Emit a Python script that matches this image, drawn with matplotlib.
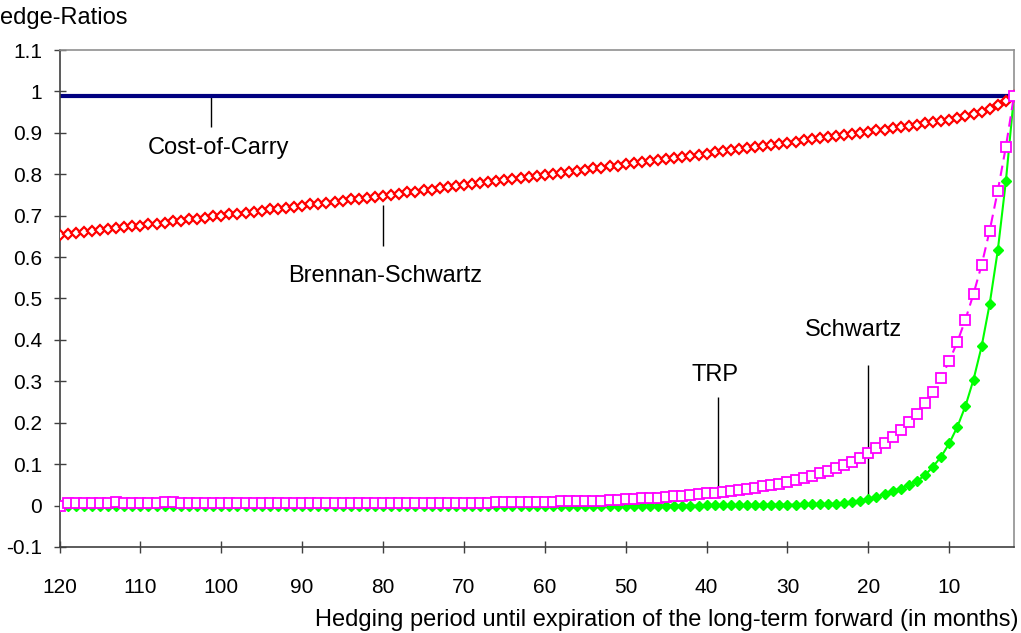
import numpy as np
import matplotlib
matplotlib.use("Agg")
import matplotlib.pyplot as plt

plt.rcParams['font.family'] = ['Liberation Sans', 'DejaVu Sans']

# hedging period in months (categories, 120 down to 2)
months = np.arange(120, 1, -1)

cost_of_carry = [0.99] * len(months)

brennan_schwartz = [
    0.653, 0.655, 0.658, 0.660, 0.662, 0.665, 0.667, 0.669, 0.672, 0.674,
    0.676, 0.679, 0.681, 0.683, 0.686, 0.688, 0.691, 0.693, 0.695, 0.698,
    0.700, 0.703, 0.705, 0.707, 0.710, 0.712, 0.715, 0.717, 0.719, 0.722,
    0.724, 0.727, 0.729, 0.731, 0.734, 0.736, 0.739, 0.741, 0.743, 0.746,
    0.748, 0.751, 0.753, 0.756, 0.758, 0.761, 0.763, 0.766, 0.768, 0.771,
    0.773, 0.776, 0.778, 0.781, 0.783, 0.786, 0.788, 0.791, 0.793, 0.796,
    0.798, 0.801, 0.803, 0.806, 0.808, 0.811, 0.814, 0.816, 0.819, 0.821,
    0.824, 0.826, 0.829, 0.832, 0.834, 0.837, 0.839, 0.842, 0.845, 0.847,
    0.850, 0.853, 0.855, 0.858, 0.861, 0.863, 0.866, 0.868, 0.871, 0.874,
    0.876, 0.879, 0.882, 0.884, 0.887, 0.890, 0.892, 0.895, 0.898, 0.900,
    0.903, 0.906, 0.908, 0.911, 0.914, 0.917, 0.920, 0.923, 0.926, 0.929,
    0.932, 0.936, 0.940, 0.945, 0.951, 0.958, 0.966, 0.976, 0.990,
]

trp = [
    0.000, 0.006, 0.006, 0.006, 0.006, 0.007, 0.007, 0.009, 0.007, 0.007,
    0.007, 0.007, 0.007, 0.008, 0.009, 0.007, 0.007, 0.006, 0.006, 0.006,
    0.006, 0.006, 0.006, 0.005, 0.006, 0.006, 0.006, 0.006, 0.006, 0.005,
    0.006, 0.006, 0.006, 0.006, 0.006, 0.006, 0.006, 0.006, 0.006, 0.006,
    0.006, 0.006, 0.006, 0.006, 0.006, 0.006, 0.006, 0.006, 0.007, 0.007,
    0.007, 0.007, 0.007, 0.007, 0.008, 0.008, 0.008, 0.008, 0.008, 0.009,
    0.009, 0.009, 0.010, 0.010, 0.010, 0.011, 0.011, 0.012, 0.013, 0.014,
    0.015, 0.016, 0.017, 0.018, 0.019, 0.020, 0.022, 0.023, 0.025, 0.027,
    0.029, 0.031, 0.033, 0.035, 0.038, 0.040, 0.043, 0.046, 0.050, 0.053,
    0.057, 0.061, 0.066, 0.072, 0.078, 0.084, 0.091, 0.098, 0.106, 0.115,
    0.126, 0.138, 0.152, 0.166, 0.182, 0.202, 0.222, 0.248, 0.274, 0.309,
    0.349, 0.395, 0.449, 0.511, 0.581, 0.664, 0.760, 0.866, 0.989,
]

schwartz = [
    0.000, 0.000, 0.000, 0.000, 0.000, 0.000, 0.000, 0.000, 0.000, 0.000,
    0.000, 0.000, 0.000, 0.000, 0.000, 0.000, 0.000, 0.000, 0.000, 0.000,
    0.000, 0.000, 0.000, 0.000, 0.000, 0.000, 0.000, 0.000, 0.000, 0.000,
    0.000, 0.000, 0.000, 0.000, 0.000, 0.000, 0.000, 0.000, 0.000, 0.000,
    0.000, 0.000, 0.000, 0.000, 0.000, 0.000, 0.000, 0.000, 0.000, 0.000,
    0.000, 0.000, 0.000, 0.000, 0.000, 0.000, 0.000, 0.000, 0.000, 0.000,
    0.000, 0.000, 0.000, 0.000, 0.000, 0.000, 0.000, 0.000, 0.000, 0.000,
    0.000, 0.000, 0.000, 0.000, 0.000, 0.000, 0.000, 0.000, 0.000, 0.000,
    0.001, 0.001, 0.001, 0.001, 0.001, 0.001, 0.001, 0.002, 0.002, 0.002,
    0.002, 0.002, 0.003, 0.003, 0.003, 0.004, 0.004, 0.006, 0.008, 0.012,
    0.016, 0.021, 0.027, 0.035, 0.041, 0.049, 0.059, 0.073, 0.094, 0.118,
    0.150, 0.190, 0.240, 0.304, 0.384, 0.487, 0.616, 0.783, 0.989,
]

x_ticks = [120, 110, 100, 90, 80, 70, 60, 50, 40, 30, 20, 10]
y_ticks = [-0.1, 0, 0.1, 0.2, 0.3, 0.4, 0.5, 0.6, 0.7, 0.8, 0.9, 1, 1.1]
y_ticklabels = ['-0.1', '0', '0.1', '0.2', '0.3', '0.4', '0.5', '0.6',
                '0.7', '0.8', '0.9', '1', '1.1']

fig = plt.figure(figsize=(10.21, 6.33), dpi=100)
ax = fig.add_axes([0.0583, 0.136, 0.9348, 0.785])

ax.plot(months, cost_of_carry, color='#000080', lw=3, zorder=2)
ax.plot(months, brennan_schwartz, linestyle='none', marker='D', markersize=4.8,
        markerfacecolor='white', markeredgecolor='#ff0000', markeredgewidth=1.6, zorder=3)
ax.plot(months, schwartz, color='#00ff00', lw=1.5, marker='D', markersize=5,
        markerfacecolor='#00ff00', markeredgecolor='#00ff00', zorder=4)
ax.plot(months, trp, color='#ff00ff', lw=1.5, linestyle=(0, (5, 3)), marker='s',
        markersize=6.7, markerfacecolor='white', markeredgecolor='#ff00ff',
        markeredgewidth=1.3, zorder=5)

# series labels with pointer lines
ax.vlines(101.3, 0.913, 0.99, color='black', lw=1, zorder=1)
ax.text(100.4, 0.863, 'Cost-of-Carry', ha='center', va='center', fontsize=17)
ax.vlines(80, 0.627, 0.725, color='black', lw=1, zorder=1)
ax.text(79.8, 0.554, 'Brennan-Schwartz', ha='center', va='center', fontsize=17)
ax.vlines(38.6, 0.029, 0.263, color='black', lw=1, zorder=1)
ax.text(38.9, 0.316, 'TRP', ha='center', va='center', fontsize=17)
ax.vlines(20, 0.022, 0.340, color='black', lw=1, zorder=1)
ax.text(21.9, 0.424, 'Schwartz', ha='center', va='center', fontsize=17)

ax.set_xlim(120, 2)
ax.set_ylim(-0.1, 1.1)
ax.set_xticks(x_ticks)
ax.set_xticklabels([str(t) for t in x_ticks])
ax.set_yticks(y_ticks)
ax.set_yticklabels(y_ticklabels)
ax.tick_params(axis='x', direction='inout', length=9, width=1, color='#404040',
               labelsize=15, pad=18)
ax.tick_params(axis='y', direction='inout', length=9, width=1, color='#404040',
               labelsize=15, pad=8)

for side in ['left', 'bottom']:
    ax.spines[side].set_color('#404040')
    ax.spines[side].set_linewidth(1.2)
for side in ['top', 'right']:
    ax.spines[side].set_color('#909090')
    ax.spines[side].set_linewidth(1.2)

fig.text(0.0, 0.9716, 'edge-Ratios', ha='left', va='center', fontsize=17)
fig.text(0.998, 0.0205, 'Hedging period until expiration of the long-term forward (in months)',
         ha='right', va='center', fontsize=17)

fig.savefig('out.png', dpi=100)
